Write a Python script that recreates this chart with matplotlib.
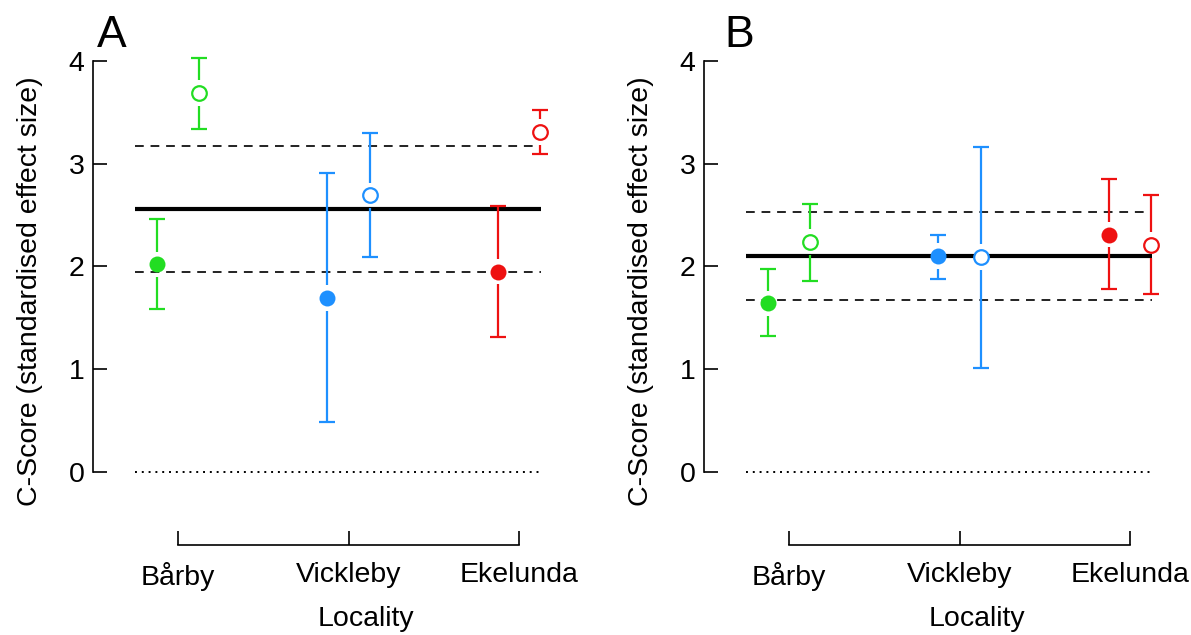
import matplotlib
matplotlib.use("Agg")
import matplotlib.pyplot as plt

plt.rcParams["font.family"] = ["Liberation Sans", "DejaVu Sans"]

# ─── Podatki ───
localities = ["Bårby", "Vickleby", "Ekelunda"]
colours = ["#22dd22", "#1e90ff", "#ee1111"]

# Panel A
a_filled = [2.02, 1.69, 1.95]
a_filled_lo = [1.59, 0.49, 1.31]
a_filled_hi = [2.46, 2.91, 2.59]
a_open = [3.69, 2.69, 3.31]
a_open_lo = [3.34, 2.09, 3.09]
a_open_hi = [4.03, 3.30, 3.52]
a_mean = 2.56
a_band = [1.95, 3.17]

# Panel B
b_filled = [1.64, 2.10, 2.31]
b_filled_lo = [1.32, 1.88, 1.78]
b_filled_hi = [1.97, 2.31, 2.85]
b_open = [2.24, 2.09, 2.21]
b_open_lo = [1.86, 1.01, 1.73]
b_open_hi = [2.61, 3.16, 2.69]
b_mean = 2.10
b_band = [1.67, 2.53]

yticks = [0, 1, 2, 3, 4]

OFFSET = 0.125     # zamik polnih / praznih točk od lokacije
GAP = 0.125        # presledek med točko in intervalom
CAP = 0.047        # polovična širina kapice
LINE_X = (0.75, 3.13)
FS = 20.5


def ci_bar(ax, x, y, lo, hi, col):
    kw = dict(color=col, linewidth=1.6, zorder=2)
    ax.vlines(x, y + GAP, hi, **kw)
    ax.vlines(x, lo, y - GAP, **kw)
    ax.hlines([lo, hi], x - CAP, x + CAP, **kw)


def draw_panel(ax, label, filled, flo, fhi, opn, olo, ohi, mean, band):
    ax.set_xlim(0.5, 3.35)
    ax.set_ylim(-0.8, 4.2)

    ax.hlines(mean, *LINE_X, color="black", linewidth=3.0, zorder=1)
    ax.hlines(band, *LINE_X, color="#222222", linewidth=1.4,
              linestyles=(0, (4.5, 3.5)), zorder=1)
    ax.hlines(0, *LINE_X, color="black", linewidth=1.4,
              linestyles=(0, (1, 2.5)), zorder=1)

    for i, col in enumerate(colours):
        xf = i + 1 - OFFSET
        xo = i + 1 + OFFSET
        ci_bar(ax, xf, filled[i], flo[i], fhi[i], col)
        ci_bar(ax, xo, opn[i], olo[i], ohi[i], col)
        ax.plot(xf, filled[i], "o", color=col, markersize=11.5,
                markeredgewidth=0, zorder=4)
        ax.plot(xo, opn[i], "o", markerfacecolor="white", markeredgecolor=col,
                markersize=10.5, markeredgewidth=1.6, zorder=4)

    for s in ["top", "right"]:
        ax.spines[s].set_visible(False)
    ax.spines["left"].set_bounds(0, 4)
    ax.spines["bottom"].set_position(("data", -0.71))
    ax.spines["bottom"].set_bounds(1, 3)
    for s in ["left", "bottom"]:
        ax.spines[s].set_linewidth(1.2)

    ax.set_yticks(yticks)
    ax.set_xticks([1, 2, 3])
    ax.set_xticklabels(localities)
    ax.tick_params(direction="in", length=10, width=1.2, labelsize=FS)
    ax.tick_params(axis="y", pad=6)
    ax.tick_params(axis="x", pad=12)

    ax.set_ylabel("C-Score (standardised effect size)", fontsize=FS)
    ax.yaxis.set_label_coords(-0.103, 0.512)
    ax.set_xlabel("Locality", fontsize=FS)
    ax.xaxis.set_label_coords(0.563, -0.1)


fig = plt.figure(figsize=(11.91, 6.35), dpi=100)
ax_a = fig.add_axes([0.0779, 0.1272, 0.4081, 0.8094])
ax_b = fig.add_axes([0.5909, 0.1272, 0.4081, 0.8094])

draw_panel(ax_a, "A", a_filled, a_filled_lo, a_filled_hi,
           a_open, a_open_lo, a_open_hi, a_mean, a_band)
draw_panel(ax_b, "B", b_filled, b_filled_lo, b_filled_hi,
           b_open, b_open_lo, b_open_hi, b_mean, b_band)

fig.text(97 / 1191, 1 - 47 / 635, "A", fontsize=32, va="baseline")
fig.text(724 / 1191, 1 - 47 / 635, "B", fontsize=32, va="baseline")

fig.savefig("out.png", dpi=100)
plt.close(fig)
